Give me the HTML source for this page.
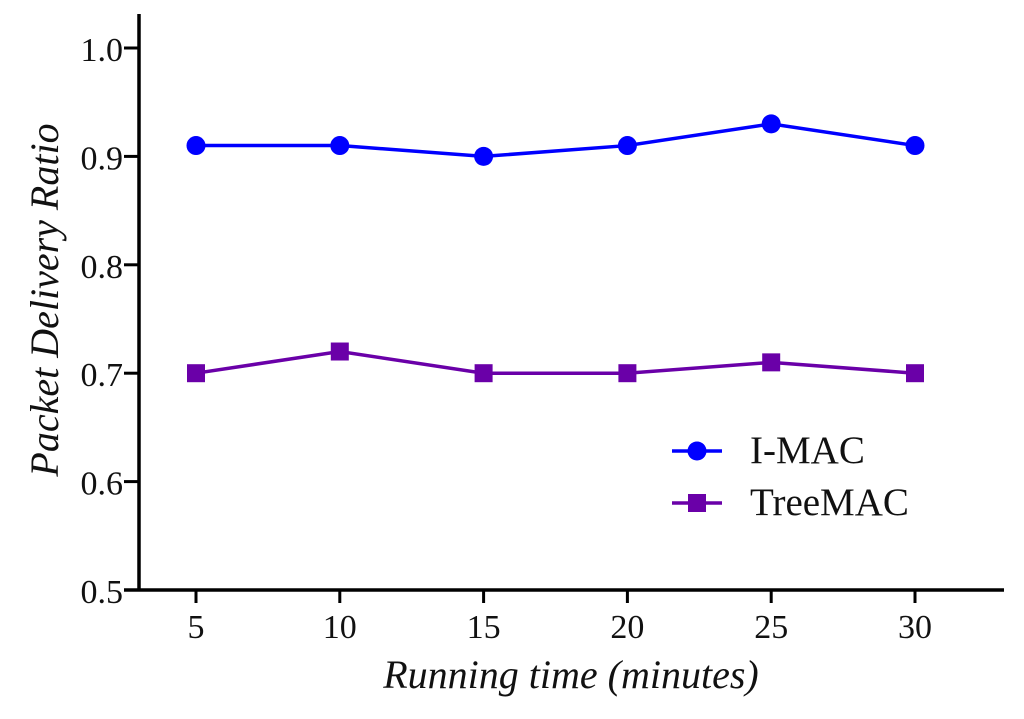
<!DOCTYPE html>
<html><head><meta charset="utf-8"><style>
html,body{margin:0;padding:0;background:#fff;}
svg{display:block;font-family:"Liberation Serif",serif;}
</style></head><body>
<svg id="chart" width="1024" height="719" viewBox="0 0 1024 719"></svg>
<script>
const categories=[5,10,15,20,25,30];
const imacValues=[0.91,0.91,0.90,0.91,0.93,0.91];
const treemacValues=[0.70,0.72,0.70,0.70,0.71,0.70];
const yTicks=[0.5,0.6,0.7,0.8,0.9,1.0];
const yTickLabels=["0.5","0.6","0.7","0.8","0.9","1.0"];
const xTickLabels=["5","10","15","20","25","30"];

const NS="http://www.w3.org/2000/svg";
const svg=document.getElementById('chart');
function X(v){return 196+(v-5)*(915-196)/25;}
function Y(v){return 590-(v-0.5)*(590-48)/0.5;}
function mk(tag,attrs,parent){const e=document.createElementNS(NS,tag);for(const k in attrs)e.setAttribute(k,attrs[k]);(parent||svg).appendChild(e);return e;}

let e;
e=mk('line',{x1:139,y1:14,x2:139,y2:591,stroke:'#000','stroke-width':3.5});


e=mk('line',{x1:124,y1:590,x2:1004,y2:590,stroke:'#000','stroke-width':3.5});



yTicks.forEach((t,i)=>{
  const y=Y(t);
  e=mk('line',{x1:124,y1:y,x2:139,y2:y,stroke:'#000','stroke-width':3});
  
  
  e=mk('text',{x:123,y:y+13,'text-anchor':'end','font-size':34,fill:'#111'});
  e.textContent=yTickLabels[i];
  
  
});
categories.forEach((c,i)=>{
  const x=X(c);
  e=mk('line',{x1:x,y1:590,x2:x,y2:603,stroke:'#000','stroke-width':3});
  
  
  e=mk('text',{x:x,y:638,'text-anchor':'middle','font-size':34,fill:'#111'});
  e.textContent=xTickLabels[i];
  
  
});

e=mk('text',{x:571,y:688,'text-anchor':'middle','font-size':40,'font-style':'italic',fill:'#111'});
e.textContent='Running time (minutes)';


e=mk('text',{x:0,y:0,'text-anchor':'middle','font-size':40,'font-style':'italic',fill:'#111',transform:'translate(58,300) rotate(-90)'});
e.textContent='Packet Delivery Ratio';



function series(vals,color,shape,name){
  const pts=categories.map((c,i)=>X(c)+','+Y(vals[i])).join(' ');
  e=mk('polyline',{points:pts,fill:'none',stroke:color,'stroke-width':3.5});
  
  
  categories.forEach((c,i)=>{
    const x=X(c),y=Y(vals[i]);
    if(shape==='circle') e=mk('circle',{cx:x,cy:y,r:9.5,fill:color});
    else e=mk('rect',{x:x-9,y:y-9,width:18,height:18,fill:color});
    
    
  });
}
series(imacValues,'#0000ff','circle','imac');
series(treemacValues,'#6a00a8','square','treemac');

function legend(y,color,shape,label,name){
  const g=mk('g',{});
  
  
  mk('line',{x1:672,y1:y,x2:722,y2:y,stroke:color,'stroke-width':3.5},g);
  if(shape==='circle') mk('circle',{cx:697,cy:y,r:9.5,fill:color},g);
  else mk('rect',{x:688,y:y-9,width:18,height:18,fill:color},g);
  const t=mk('text',{x:750,y:y+12,'font-size':39,fill:'#111'},g);
  t.textContent=label;
}
legend(451,'#0000ff','circle','I-MAC','imac');
legend(503,'#6a00a8','square','TreeMAC','treemac');
</script>
</body></html>
